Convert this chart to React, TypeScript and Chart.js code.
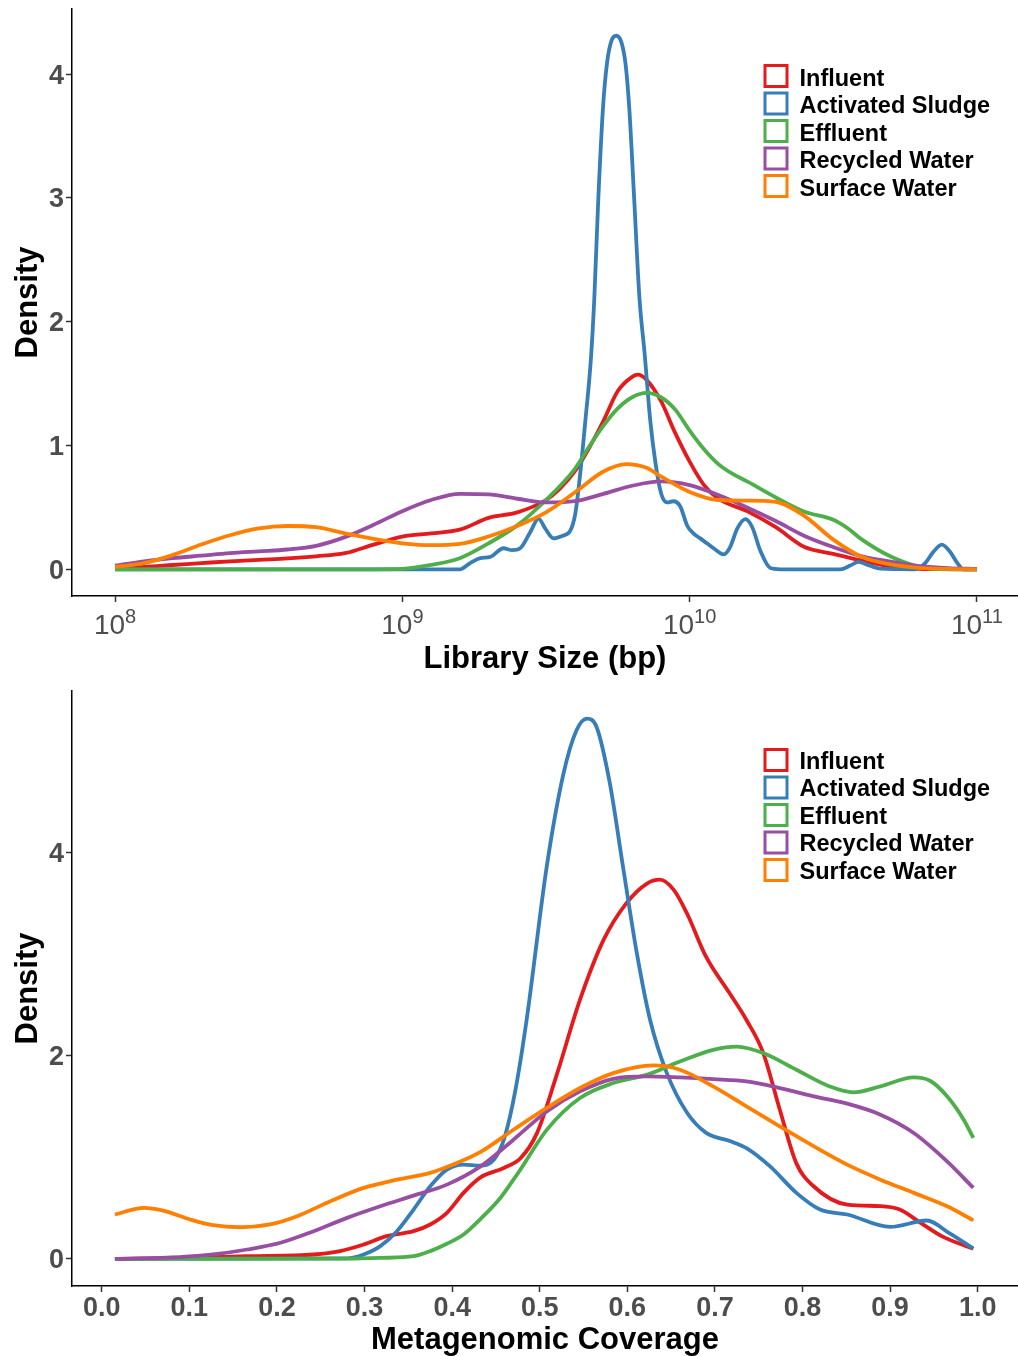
import React, { useEffect, useRef } from 'react';
import { Chart, registerables } from 'chart.js';

Chart.register(...registerables);

const FONT = '"Liberation Sans", Arial, Helvetica, sans-serif';
const TICK_GRAY = '#4D4D4D';

const seriesNames = ['Influent', 'Activated Sludge', 'Effluent', 'Recycled Water', 'Surface Water'];
const seriesColors = ['#E41A1C', '#377EB8', '#4DAF4A', '#984EA3', '#FF7F00'];

// ---------- Top panel: library size (log10 bp) vs density ----------
const libInfluentLog10 = [8.0, 8.1, 8.2, 8.3, 8.4, 8.5, 8.6, 8.7, 8.8, 8.9, 9.0, 9.1, 9.2, 9.3, 9.4, 9.5, 9.55, 9.6, 9.65, 9.7, 9.75, 9.8, 9.82, 9.85, 9.9, 9.95, 10.0, 10.05, 10.1, 10.2, 10.3, 10.4, 10.5, 10.6, 10.7, 10.8, 10.9, 11.0];
const libInfluentDensity = [0.01, 0.02, 0.035, 0.05, 0.065, 0.077, 0.088, 0.105, 0.13, 0.2, 0.265, 0.29, 0.32, 0.415, 0.46, 0.56, 0.656, 0.79, 0.98, 1.2, 1.44, 1.555, 1.572, 1.53, 1.36, 1.1, 0.87, 0.68, 0.57, 0.47, 0.34, 0.18, 0.125, 0.07, 0.022, 0.004, 0.001, 0];

const libSludgeLog10 = [8.0, 9.1, 9.2, 9.236, 9.271, 9.306, 9.352, 9.382, 9.41, 9.445, 9.474, 9.497, 9.526, 9.556, 9.584, 9.602, 9.618, 9.637, 9.656, 9.668, 9.682, 9.699, 9.713, 9.728, 9.745, 9.762, 9.777, 9.79, 9.807, 9.825, 9.843, 9.863, 9.881, 9.901, 9.922, 9.943, 9.967, 9.992, 10.013, 10.037, 10.06, 10.089, 10.118, 10.141, 10.166, 10.194, 10.218, 10.246, 10.281, 10.316, 10.524, 10.559, 10.587, 10.615, 10.664, 10.785, 10.82, 10.848, 10.878, 10.907, 10.932, 10.953, 11.0];
const libSludgeDensity = [0, 0, 0, 0.05, 0.09, 0.1, 0.17, 0.155, 0.17, 0.3, 0.41, 0.33, 0.25, 0.27, 0.31, 0.45, 0.75, 1.2, 1.69, 2.18, 2.99, 3.75, 4.1, 4.27, 4.31, 4.26, 4.08, 3.72, 2.99, 2.2, 1.75, 1.2, 0.86, 0.61, 0.54, 0.55, 0.51, 0.35, 0.29, 0.25, 0.21, 0.16, 0.12, 0.18, 0.33, 0.405, 0.34, 0.15, 0.01, 0, 0, 0.03, 0.06, 0.04, 0.005, 0, 0.05, 0.14, 0.2, 0.14, 0.05, 0, 0];

const libEffluentLog10 = [8.0, 8.5, 8.9, 9.0, 9.1, 9.2, 9.3, 9.4, 9.5, 9.6, 9.65, 9.7, 9.75, 9.8, 9.85, 9.9, 9.95, 10.0, 10.05, 10.1, 10.15, 10.2, 10.3, 10.4, 10.5, 10.55, 10.6, 10.7, 10.8, 10.9, 11.0];
const libEffluentDensity = [0, 0, 0, 0.003, 0.035, 0.09, 0.21, 0.355, 0.56, 0.81, 0.99, 1.16, 1.3, 1.39, 1.425, 1.39, 1.29, 1.12, 0.97, 0.85, 0.77, 0.71, 0.58, 0.465, 0.4, 0.332, 0.24, 0.103, 0.02, 0, 0];

const libRecycledLog10 = [8.0, 8.1, 8.2, 8.3, 8.4, 8.5, 8.6, 8.7, 8.8, 8.9, 9.0, 9.1, 9.2, 9.3, 9.4, 9.5, 9.6, 9.7, 9.8, 9.9, 10.0, 10.1, 10.2, 10.3, 10.4, 10.5, 10.6, 10.7, 10.8, 10.9, 11.0];
const libRecycledDensity = [0.03, 0.065, 0.09, 0.11, 0.13, 0.145, 0.16, 0.19, 0.26, 0.36, 0.47, 0.56, 0.61, 0.605, 0.57, 0.54, 0.55, 0.61, 0.675, 0.71, 0.68, 0.6, 0.5, 0.39, 0.27, 0.18, 0.105, 0.062, 0.025, 0.01, 0.003];

const libSurfaceLog10 = [8.0, 8.1, 8.2, 8.3, 8.4, 8.5, 8.6, 8.7, 8.8, 8.9, 9.0, 9.1, 9.2, 9.3, 9.4, 9.5, 9.6, 9.7, 9.78, 9.85, 9.9, 10.0, 10.1, 10.2, 10.3, 10.4, 10.5, 10.6, 10.7, 10.8, 10.9, 11.0];
const libSurfaceDensity = [0.02, 0.05, 0.115, 0.2, 0.275, 0.33, 0.35, 0.34, 0.29, 0.245, 0.21, 0.195, 0.205, 0.265, 0.35, 0.46, 0.62, 0.79, 0.85, 0.82, 0.75, 0.625, 0.56, 0.555, 0.545, 0.43, 0.24, 0.1, 0.04, 0.012, 0.003, 0];

const libTickExponents = [8, 9, 10, 11];
const libDensityTicks = [0, 1, 2, 3, 4];

// ---------- Bottom panel: metagenomic coverage vs density ----------
const covInfluentX = [0.015, 0.1, 0.166, 0.242, 0.272, 0.299, 0.325, 0.356, 0.375, 0.394, 0.413, 0.432, 0.459, 0.478, 0.497, 0.519, 0.546, 0.573, 0.599, 0.622, 0.637, 0.653, 0.668, 0.69, 0.717, 0.736, 0.755, 0.774, 0.793, 0.812, 0.851, 0.889, 0.911, 0.934, 0.96, 0.995];
const covInfluentDensity = [0, 0.01, 0.027, 0.044, 0.077, 0.142, 0.224, 0.273, 0.339, 0.454, 0.65, 0.8, 0.895, 0.99, 1.24, 1.8, 2.55, 3.14, 3.5, 3.69, 3.73, 3.63, 3.4, 2.97, 2.61, 2.35, 2.03, 1.47, 0.94, 0.72, 0.535, 0.52, 0.486, 0.36, 0.22, 0.1];

const covSludgeX = [0.015, 0.28, 0.299, 0.318, 0.337, 0.356, 0.375, 0.394, 0.413, 0.432, 0.448, 0.46, 0.472, 0.485, 0.508, 0.527, 0.542, 0.554, 0.565, 0.58, 0.595, 0.611, 0.626, 0.645, 0.668, 0.69, 0.717, 0.736, 0.763, 0.793, 0.82, 0.851, 0.9, 0.942, 0.968, 0.995];
const covSludgeDensity = [0, 0.005, 0.044, 0.126, 0.273, 0.486, 0.715, 0.879, 0.928, 0.918, 0.98, 1.2, 1.65, 2.35, 3.86, 4.77, 5.2, 5.314, 5.23, 4.68, 3.86, 3.0, 2.35, 1.83, 1.44, 1.24, 1.16, 1.09, 0.91, 0.65, 0.486, 0.437, 0.315, 0.378, 0.251, 0.103];

const covEffluentX = [0.015, 0.28, 0.318, 0.356, 0.375, 0.394, 0.413, 0.432, 0.455, 0.47, 0.478, 0.508, 0.546, 0.584, 0.622, 0.66, 0.698, 0.725, 0.755, 0.793, 0.831, 0.858, 0.889, 0.927, 0.946, 0.965, 0.984, 0.995];
const covEffluentDensity = [0, 0.003, 0.01, 0.027, 0.077, 0.149, 0.24, 0.39, 0.6, 0.78, 0.88, 1.27, 1.583, 1.73, 1.811, 1.942, 2.057, 2.089, 2.025, 1.861, 1.697, 1.638, 1.697, 1.785, 1.75, 1.6, 1.37, 1.19];

const covRecycledX = [0.015, 0.089, 0.127, 0.166, 0.204, 0.242, 0.28, 0.318, 0.356, 0.394, 0.432, 0.47, 0.508, 0.546, 0.584, 0.622, 0.66, 0.698, 0.736, 0.774, 0.813, 0.851, 0.889, 0.927, 0.965, 0.995];
const covRecycledDensity = [0, 0.018, 0.044, 0.093, 0.159, 0.273, 0.404, 0.518, 0.623, 0.731, 0.908, 1.173, 1.451, 1.648, 1.772, 1.795, 1.785, 1.769, 1.746, 1.681, 1.599, 1.527, 1.419, 1.239, 0.96, 0.7];

const covSurfaceX = [0.015, 0.048, 0.07, 0.101, 0.127, 0.158, 0.192, 0.223, 0.261, 0.299, 0.337, 0.375, 0.401, 0.432, 0.47, 0.508, 0.546, 0.584, 0.63, 0.66, 0.698, 0.736, 0.774, 0.813, 0.851, 0.889, 0.927, 0.965, 0.995];
const covSurfaceDensity = [0.437, 0.503, 0.476, 0.388, 0.332, 0.312, 0.339, 0.42, 0.568, 0.699, 0.78, 0.846, 0.928, 1.05, 1.271, 1.485, 1.681, 1.828, 1.903, 1.861, 1.697, 1.5, 1.304, 1.108, 0.928, 0.78, 0.65, 0.518, 0.38];

const covTicks = [0, 0.1, 0.2, 0.3, 0.4, 0.5, 0.6, 0.7, 0.8, 0.9, 1.0];
const covDensityTicks = [0, 2, 4];

// ---------- helpers ----------
function toPoints(xs: number[], ys: number[], fx: (v: number) => number) {
  return xs.map((x, i) => ({ x: fx(x), y: ys[i] }));
}

function makeDatasets(seriesData: { x: number; y: number }[][]) {
  return seriesData.map((data, i) => ({
    label: seriesNames[i],
    data,
    borderColor: seriesColors[i],
    backgroundColor: '#ffffff',
    borderWidth: 3.8,
    pointRadius: 0,
    pointHoverRadius: 0,
    fill: false,
    cubicInterpolationMode: 'monotone' as const,
    order: seriesNames.length - 1 - i,
  }));
}

const boxLegendPlugin = {
  id: 'boxLegend',
  afterDraw(chart: any, _args: any, opts: any) {
    const ctx = chart.ctx;
    ctx.save();
    seriesNames.forEach((name, i) => {
      const cy = opts.y0 + i * opts.step;
      ctx.fillStyle = '#ffffff';
      ctx.fillRect(opts.x, cy - 12, 25, 24);
      ctx.strokeStyle = seriesColors[i];
      ctx.lineWidth = 3;
      ctx.strokeRect(opts.x + 1.5, cy - 12 + 1.5, 22, 21);
      ctx.fillStyle = '#000000';
      ctx.font = `bold 23.5px ${FONT}`;
      ctx.textAlign = 'left';
      ctx.textBaseline = 'alphabetic';
      ctx.fillText(name, opts.textX, cy + opts.textDy);
    });
    ctx.restore();
  },
};

const logTickLabelPlugin = {
  id: 'logTickLabels',
  afterDraw(chart: any) {
    const s = chart.scales.x;
    const ctx = chart.ctx;
    ctx.save();
    ctx.fillStyle = TICK_GRAY;
    ctx.textAlign = 'left';
    ctx.textBaseline = 'alphabetic';
    libTickExponents.forEach((e) => {
      const px = s.getPixelForValue(Math.pow(10, e));
      const base = '10';
      const sup = String(e);
      ctx.font = `28px ${FONT}`;
      const wb = ctx.measureText(base).width;
      ctx.font = `20px ${FONT}`;
      const ws = ctx.measureText(sup).width;
      const start = px - (wb + ws) / 2;
      ctx.font = `28px ${FONT}`;
      ctx.fillText(base, start, 634);
      ctx.font = `20px ${FONT}`;
      ctx.fillText(sup, start + wb, 623);
    });
    ctx.restore();
  },
};

const gridCfg = {
  display: true,
  drawOnChartArea: false,
  drawTicks: true,
  tickLength: 6,
  tickColor: '#333333',
  tickWidth: 1.5,
};
const borderCfg = { display: true, color: '#000000', width: 1.5 };

function zeroPad(s: any) {
  s.paddingTop = 0;
  s.paddingBottom = 0;
  s.paddingLeft = 0;
  s.paddingRight = 0;
}

function yAxis(min: number, max: number, ticks: number[]) {
  return {
    type: 'linear' as const,
    min,
    max,
    afterBuildTicks: (s: any) => {
      s.ticks = ticks.map((v) => ({ value: v }));
    },
    afterFit: (s: any) => {
      s.width = 72;
      zeroPad(s);
    },
    ticks: {
      color: TICK_GRAY,
      font: { family: FONT, size: 27, weight: 'bold' as const },
      padding: 2,
      labelOffset: 2,
      callback: (v: any) => String(v),
    },
    grid: gridCfg,
    border: borderCfg,
    title: {
      display: true,
      text: 'Density',
      color: '#000000',
      font: { family: FONT, size: 31, weight: 'bold' as const, lineHeight: 1.2 },
      padding: { top: 9.5, bottom: 0 },
    },
  };
}

function buildTopConfig(): any {
  const series = [
    toPoints(libInfluentLog10, libInfluentDensity, (v) => Math.pow(10, v)),
    toPoints(libSludgeLog10, libSludgeDensity, (v) => Math.pow(10, v)),
    toPoints(libEffluentLog10, libEffluentDensity, (v) => Math.pow(10, v)),
    toPoints(libRecycledLog10, libRecycledDensity, (v) => Math.pow(10, v)),
    toPoints(libSurfaceLog10, libSurfaceDensity, (v) => Math.pow(10, v)),
  ];
  return {
    type: 'line',
    data: { datasets: makeDatasets(series) },
    options: {
      animation: false,
      responsive: false,
      devicePixelRatio: 1,
      events: [],
      layout: { padding: { top: 9, left: 0, right: 0, bottom: 0 } },
      plugins: {
        legend: { display: false },
        tooltip: { enabled: false },
        boxLegend: { x: 763.5, y0: 76, step: 27.5, textX: 799.5, textDy: 9.5 },
      },
      scales: {
        x: {
          type: 'logarithmic',
          min: Math.pow(10, 7.85),
          max: Math.pow(10, 11.143),
          afterBuildTicks: (s: any) => {
            s.ticks = libTickExponents.map((e) => ({ value: Math.pow(10, e) }));
          },
          afterFit: (s: any) => {
            s.height = 84;
            zeroPad(s);
          },
          ticks: { display: false },
          grid: gridCfg,
          border: borderCfg,
          title: {
            display: true,
            text: 'Library Size (bp)',
            color: '#000000',
            font: { family: FONT, size: 31, weight: 'bold', lineHeight: 1.2 },
            padding: { top: 0, bottom: 2 },
          },
        },
        y: yAxis(-0.2155, 4.526, libDensityTicks),
      },
    },
    plugins: [boxLegendPlugin, logTickLabelPlugin],
  };
}

function buildBottomConfig(): any {
  const id = (v: number) => v;
  const series = [
    toPoints(covInfluentX, covInfluentDensity, id),
    toPoints(covSludgeX, covSludgeDensity, id),
    toPoints(covEffluentX, covEffluentDensity, id),
    toPoints(covRecycledX, covRecycledDensity, id),
    toPoints(covSurfaceX, covSurfaceDensity, id),
  ];
  return {
    type: 'line',
    data: { datasets: makeDatasets(series) },
    options: {
      animation: false,
      responsive: false,
      devicePixelRatio: 1,
      events: [],
      layout: { padding: { top: 11, left: 0, right: 0, bottom: 0 } },
      plugins: {
        legend: { display: false },
        tooltip: { enabled: false },
        boxLegend: { x: 763.5, y0: 80, step: 27.5, textX: 799.5, textDy: 8.8 },
      },
      scales: {
        x: {
          type: 'linear',
          min: -0.034,
          max: 1.046,
          afterBuildTicks: (s: any) => {
            s.ticks = covTicks.map((v) => ({ value: v }));
          },
          afterFit: (s: any) => {
            s.height = 70;
            zeroPad(s);
          },
          ticks: {
            color: TICK_GRAY,
            font: { family: FONT, size: 27, weight: 'bold', lineHeight: 1 },
            padding: 3,
            maxRotation: 0,
            autoSkip: false,
            callback: (v: any) => Number(v).toFixed(1),
          },
          grid: gridCfg,
          border: borderCfg,
          title: {
            display: true,
            text: 'Metagenomic Coverage',
            color: '#000000',
            font: { family: FONT, size: 31, weight: 'bold', lineHeight: 1.2 },
            padding: { top: 0, bottom: -3 },
          },
        },
        y: yAxis(-0.266, 5.586, covDensityTicks),
      },
    },
    plugins: [boxLegendPlugin],
  };
}

function ChartCanvas({ build, width, height }: { build: () => any; width: number; height: number }) {
  const ref = useRef<HTMLCanvasElement>(null);
  useEffect(() => {
    if (!ref.current) return;
    const chart = new Chart(ref.current, build());
    return () => chart.destroy();
  }, []);
  return <canvas ref={ref} width={width} height={height} style={{ display: 'block', width, height }} />;
}

export default function App() {
  return (
    <div style={{ position: 'absolute', left: 0, top: 0, width: 1018, height: 1356, background: '#ffffff', overflow: 'hidden' }}>
      <div style={{ position: 'absolute', left: 0, top: 0 }}>
        <ChartCanvas build={buildTopConfig} width={1018} height={680} />
      </div>
      <div style={{ position: 'absolute', left: 0, top: 680 }}>
        <ChartCanvas build={buildBottomConfig} width={1018} height={676} />
      </div>
    </div>
  );
}
